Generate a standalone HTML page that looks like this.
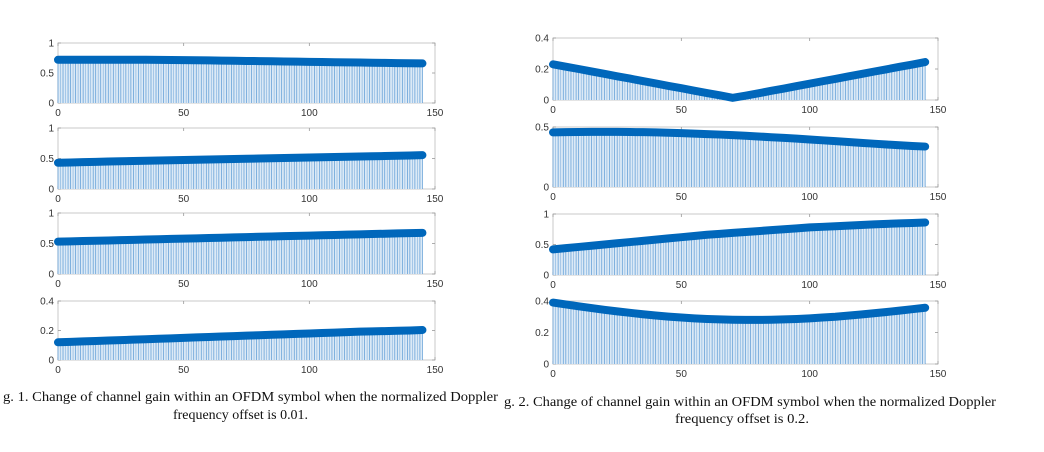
<!DOCTYPE html>
<html><head><meta charset="utf-8"><style>
html,body{margin:0;padding:0;background:#fff;}
svg{display:block;}
text{font-family:"Liberation Sans",sans-serif;}
.cap{font-family:"Liberation Serif",serif;font-size:13.5px;fill:#111;}
</style></head><body>
<svg id="fig" width="1044" height="452" viewBox="0 0 1044 452" xmlns="http://www.w3.org/2000/svg">
<text class="cap" x="3" y="401" textLength="495" lengthAdjust="spacingAndGlyphs">g. 1. Change of channel gain within an OFDM symbol when the normalized Doppler</text>
<text class="cap" x="173" y="419" textLength="135" lengthAdjust="spacingAndGlyphs">frequency offset is 0.01.</text>
<text class="cap" x="504" y="406" textLength="492" lengthAdjust="spacingAndGlyphs">g. 2. Change of channel gain within an OFDM symbol when the normalized Doppler</text>
<text class="cap" x="675" y="423" textLength="134" lengthAdjust="spacingAndGlyphs">frequency offset is 0.2.</text>
</svg>
<script>
// sample indices (every 5th subcarrier)
const sampleIdx = [0,5,10,15,20,25,30,35,40,45,50,55,60,65,70,75,80,85,90,95,100,105,110,115,120,125,130,135,140,145];
const xTicks = [0,50,100,150];
const yTicks1 = [0,0.5,1];
const yTicks04 = [0,0.2,0.4];
const yTicks05 = [0,0.5];
// Fig 1 (offset 0.01)
const left1 = [0.72,0.72,0.72,0.72,0.72,0.72,0.72,0.72,0.718,0.716,0.714,0.712,0.71,0.707,0.704,0.701,0.698,0.695,0.692,0.689,0.686,0.683,0.68,0.677,0.674,0.671,0.668,0.665,0.662,0.66];
const left2 = [0.43,0.435,0.44,0.445,0.45,0.455,0.46,0.464,0.468,0.472,0.476,0.48,0.484,0.488,0.492,0.496,0.5,0.504,0.508,0.512,0.516,0.52,0.524,0.528,0.532,0.536,0.54,0.545,0.55,0.555];
const left3 = [0.53,0.535,0.54,0.545,0.55,0.555,0.56,0.565,0.57,0.575,0.58,0.585,0.59,0.595,0.6,0.605,0.61,0.615,0.62,0.625,0.63,0.635,0.64,0.645,0.65,0.655,0.66,0.665,0.67,0.675];
const left4 = [0.12,0.123,0.126,0.129,0.132,0.135,0.138,0.141,0.144,0.147,0.15,0.153,0.156,0.159,0.162,0.165,0.168,0.171,0.174,0.177,0.18,0.183,0.186,0.189,0.192,0.194,0.196,0.198,0.2,0.203];
// Fig 2 (offset 0.2)
const right1 = [0.23,0.215,0.2,0.184,0.169,0.153,0.138,0.122,0.107,0.091,0.076,0.06,0.045,0.03,0.014,0.028,0.043,0.059,0.074,0.09,0.105,0.121,0.136,0.152,0.167,0.183,0.198,0.214,0.229,0.245];
const right2 = [0.455,0.457,0.458,0.459,0.459,0.459,0.458,0.457,0.455,0.452,0.449,0.445,0.441,0.437,0.432,0.427,0.421,0.415,0.409,0.403,0.396,0.389,0.382,0.375,0.368,0.361,0.354,0.348,0.342,0.337];
const right3 = [0.42,0.44,0.46,0.48,0.5,0.52,0.54,0.56,0.58,0.6,0.62,0.64,0.66,0.675,0.69,0.705,0.72,0.735,0.75,0.765,0.78,0.79,0.8,0.81,0.82,0.83,0.838,0.846,0.853,0.86];
const right4 = [0.39,0.378,0.366,0.355,0.344,0.334,0.325,0.316,0.308,0.301,0.295,0.29,0.286,0.283,0.281,0.28,0.28,0.281,0.283,0.286,0.29,0.295,0.3,0.307,0.314,0.322,0.33,0.339,0.348,0.357];

const NS='http://www.w3.org/2000/svg';
const svg=document.getElementById('fig');
function mk(tag,attrs,parent){const e=document.createElementNS(NS,tag);for(const k in attrs)e.setAttribute(k,attrs[k]);(parent||svg).appendChild(e);return e;}

const panels=[
 {name:'fig1-panel1',x0:58,x1:435,top:43,bot:103,ymax:1,ticks:yTicks1,data:left1},
 {name:'fig1-panel2',x0:58,x1:435,top:128,bot:189,ymax:1,ticks:yTicks1,data:left2},
 {name:'fig1-panel3',x0:58,x1:435,top:213,bot:274,ymax:1,ticks:yTicks1,data:left3},
 {name:'fig1-panel4',x0:58,x1:435,top:301,bot:360,ymax:0.4,ticks:yTicks04,data:left4},
 {name:'fig2-panel1',x0:553,x1:938,top:38,bot:100,ymax:0.4,ticks:yTicks04,data:right1},
 {name:'fig2-panel2',x0:553,x1:938,top:127,bot:187,ymax:0.5,ticks:yTicks05,data:right2},
 {name:'fig2-panel3',x0:553,x1:938,top:214,bot:275,ymax:1,ticks:yTicks1,data:right3},
 {name:'fig2-panel4',x0:553,x1:938,top:301,bot:364,ymax:0.4,ticks:yTicks04,data:right4}
];

panels.forEach(p=>{
  const g=mk('g',{});
  
  
  const sx=v=>p.x0+(v/150)*(p.x1-p.x0);
  const sy=v=>p.bot-(v/p.ymax)*(p.bot-p.top);
  const box=mk('rect',{x:p.x0,y:p.top,width:p.x1-p.x0,height:p.bot-p.top,fill:'#fff',stroke:'#c8c8c8','stroke-width':1},g);
  
  
  xTicks.forEach(t=>{
    mk('line',{x1:sx(t),x2:sx(t),y1:p.bot,y2:p.bot-3,stroke:'#999','stroke-width':0.8},g);
    mk('line',{x1:sx(t),x2:sx(t),y1:p.top,y2:p.top+3,stroke:'#999','stroke-width':0.8},g);
    const tx=mk('text',{x:sx(t),y:p.bot+13,'font-size':'10','text-anchor':'middle',fill:'#333'},g);
    tx.textContent=t;
    
    
  });
  p.ticks.forEach(t=>{
    mk('line',{x1:p.x0,x2:p.x0+3,y1:sy(t),y2:sy(t),stroke:'#999','stroke-width':0.8},g);
    mk('line',{x1:p.x1,x2:p.x1-3,y1:sy(t),y2:sy(t),stroke:'#999','stroke-width':0.8},g);
    const ty=mk('text',{x:p.x0-4,y:sy(t)+3.5,'font-size':'10','text-anchor':'end',fill:'#333'},g);
    ty.textContent=t;
    
    
  });
  let d='M'+sx(sampleIdx[0])+','+p.bot;
  p.data.forEach((v,i)=>{d+=' L'+sx(sampleIdx[i])+','+sy(v);});
  d+=' L'+sx(sampleIdx[sampleIdx.length-1])+','+p.bot+' Z';
  const area=mk('path',{d:d,fill:'#dbe9f6'},g);
  
  
  p.data.forEach((v,i)=>{
    for(let k=0;k<5 && sampleIdx[i]+k<=sampleIdx[sampleIdx.length-1];k++){
      const j=Math.min(i+1,p.data.length-1);
      const vv=v+(p.data[j]-v)*k/5;
      const s=mk('line',{x1:sx(sampleIdx[i]+k),x2:sx(sampleIdx[i]+k),y1:p.bot,y2:sy(vv),stroke:'#4a90d0','stroke-width':0.7,'stroke-opacity':k%2?0.55:0.9},g);
      
      
    }
  });
  let ld='';
  p.data.forEach((v,i)=>{ld+=(i?' L':'M')+sx(sampleIdx[i])+','+sy(v);});
  const ln=mk('path',{d:ld,fill:'none',stroke:'#0067bb','stroke-width':8,'stroke-linecap':'round','stroke-linejoin':'round'},g);
  
  
});
</script>
</body></html>
